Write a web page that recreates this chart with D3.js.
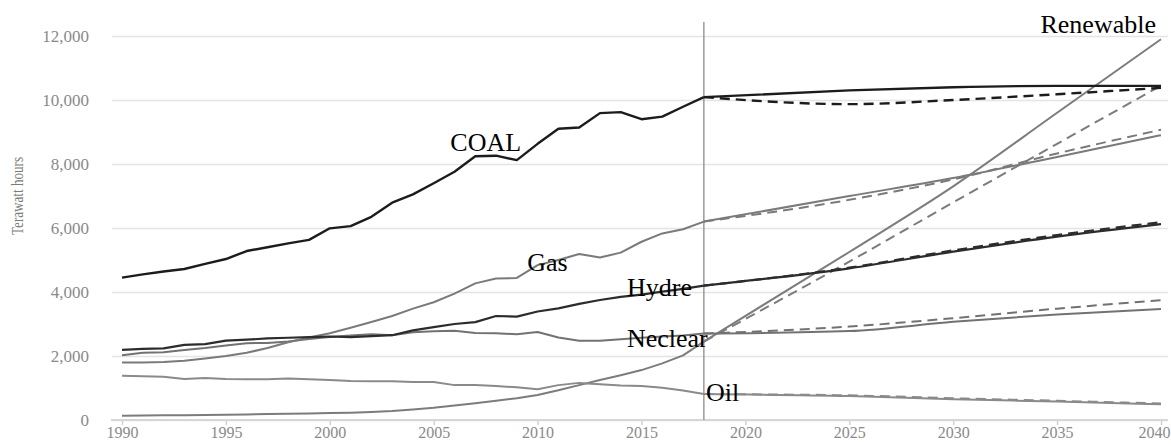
<!DOCTYPE html>
<html>
<head>
<meta charset="utf-8">
<script src="https://cdn.jsdelivr.net/npm/d3@7"></script>
<style>
  body { margin: 0; background: #fff; }
  svg { display: block; }
</style>
</head>
<body>
<div id="chart"></div>
<script>
const width = 1171;
const height = 444;

// historical data, 1990-2018 (terawatt hours)
const years = d3.range(1990, 2019);
const coal = [4450, 4550, 4640, 4720, 4880, 5030, 5280, 5400, 5520, 5630, 5990, 6060, 6350, 6790, 7050, 7400, 7760, 8240, 8260, 8120, 8630, 9100, 9140, 9590, 9620, 9400, 9480, 9790, 10090];
const gas = [1800, 1800, 1810, 1850, 1920, 2000, 2100, 2250, 2430, 2580, 2710, 2880, 3060, 3250, 3480, 3680, 3950, 4270, 4420, 4440, 4840, 5000, 5190, 5080, 5230, 5570, 5830, 5960, 6200];
const hydro = [2190, 2220, 2240, 2350, 2370, 2480, 2510, 2550, 2570, 2590, 2610, 2590, 2620, 2650, 2800, 2900, 3000, 3060, 3250, 3230, 3390, 3490, 3630, 3750, 3850, 3920, 4010, 4100, 4200];
const nuclear = [2020, 2100, 2120, 2190, 2250, 2330, 2400, 2410, 2450, 2530, 2590, 2640, 2680, 2650, 2740, 2770, 2790, 2720, 2710, 2680, 2750, 2580, 2480, 2480, 2520, 2570, 2610, 2640, 2700];
const oil = [1385, 1365, 1350, 1280, 1310, 1280, 1270, 1270, 1300, 1270, 1250, 1220, 1210, 1210, 1190, 1190, 1090, 1090, 1060, 1020, 960, 1090, 1160, 1120, 1080, 1060, 1010, 920, 810];
const renewable = [135, 140, 145, 150, 155, 165, 175, 185, 195, 205, 215, 230, 250, 280, 330, 380, 450, 520, 600, 680, 780, 930, 1090, 1250, 1400, 1560, 1770, 2020, 2450];

// projections, 2018-2040: solid and dashed scenarios
const projYears = [2018, 2025, 2030, 2035, 2040];
const coalSolid = [10090, 10300, 10400, 10440, 10440];
const coalDash = [10090, 9870, 10000, 10180, 10380];
const gasSolid = [6200, 7000, 7560, 8220, 8900];
const gasDash = [6200, 6880, 7520, 8330, 9070];
const hydroSolid = [4200, 4740, 5260, 5730, 6120];
const hydroDash = [4200, 4760, 5300, 5780, 6180];
const nuclearSolid = [2700, 2780, 3070, 3300, 3470];
const nuclearDash = [2700, 2920, 3180, 3480, 3740];
const oilSolid = [810, 750, 650, 575, 490];
const oilDash = [810, 770, 680, 600, 515];
const renewableSolid = [2450, 5250, 7300, 9600, 11900];
const renewableDash = [2450, 4950, 6800, 8630, 10450];

const yTicks = [0, 2000, 4000, 6000, 8000, 10000, 12000];
const xTicks = [1990, 1995, 2000, 2005, 2010, 2015, 2020, 2025, 2030, 2035, 2040];

const labels = [
  { text: "COAL", year: 2005.8, value: 8400 },
  { text: "Gas", year: 2009.5, value: 4650 },
  { text: "Hydre", year: 2014.3, value: 3880 },
  { text: "Neclear", year: 2014.3, value: 2290 },
  { text: "Oil", year: 2018.1, value: 580 },
  { text: "Renewable", year: 2034.2, value: 12090 }
];

const series = [
  { hist: renewable, solid: renewableSolid, dash: renewableDash, color: "#7c7c7c", w: 2 },
  { hist: oil, solid: oilSolid, dash: oilDash, color: "#8a8a8a", w: 2 },
  { hist: nuclear, solid: nuclearSolid, dash: nuclearDash, color: "#727272", w: 2 },
  { hist: gas, solid: gasSolid, dash: gasDash, color: "#7a7a7a", w: 2 },
  { hist: hydro, solid: hydroSolid, dash: hydroDash, color: "#2c2c2c", w: 2.2 },
  { hist: coal, solid: coalSolid, dash: coalDash, color: "#1c1c1c", w: 2.4 }
];

const serif = "'Liberation Serif', 'Times New Roman', serif";

const svg = d3.select("#chart").append("svg")
    .attr("width", width)
    .attr("height", height);

const x = d3.scaleLinear().domain([1990, 2040]).range([122, 1161]);
const y = d3.scaleLinear().domain([0, 12000]).range([420, 36]);

const gridLeft = 112;
const gridRight = 1168;

// y axis with gridlines
const yAxis = svg.append("g")
    .attr("transform", `translate(${gridLeft},0)`)
    .call(d3.axisLeft(y).tickValues(yTicks).tickFormat(d3.format(","))
        .tickSize(-(gridRight - gridLeft)).tickPadding(23))
    .attr("font-family", serif)
    .attr("font-size", 17);
yAxis.select(".domain").remove();
yAxis.selectAll(".tick line")
    .attr("stroke", "#e4e4e4")
    .attr("stroke-width", 1.5);
yAxis.selectAll(".tick text")
    .attr("fill", "#8a8a8a");

// x axis
const xAxis = svg.append("g")
    .attr("transform", `translate(0,${y(0)})`)
    .call(d3.axisBottom(x).tickValues(xTicks).tickFormat(d3.format("d"))
        .tickSize(5).tickPadding(2))
    .attr("font-family", serif)
    .attr("font-size", 16);
xAxis.select(".domain").remove();
xAxis.selectAll(".tick line")
    .attr("stroke", "#d0d0d0")
    .attr("stroke-width", 1.5);
xAxis.selectAll(".tick text")
    .attr("fill", "#8a8a8a");
// keep the last year inside the frame
xAxis.selectAll(".tick text")
    .filter(d => d === 2040)
    .attr("text-anchor", "end")
    .attr("x", width - 1 - x(2040));
xAxis.append("line")
    .attr("x1", gridLeft - 1).attr("x2", gridRight)
    .attr("stroke", "#d6d6d6")
    .attr("stroke-width", 2);

// y axis title
svg.append("text")
    .attr("transform", "translate(23,196) rotate(-90)")
    .attr("text-anchor", "middle")
    .attr("fill", "#7a7a7a")
    .attr("textLength", 78)
    .attr("lengthAdjust", "spacingAndGlyphs")
    .style("font-family", serif)
    .style("font-size", "16px")
    .text("Terawatt hours");

// 2018 divider
svg.append("line")
    .attr("x1", x(2018)).attr("x2", x(2018))
    .attr("y1", 22).attr("y2", y(0))
    .attr("stroke", "#9a9a9a")
    .attr("stroke-width", 1.5);

const histLine = d3.line()
    .x((d, i) => x(years[i]))
    .y(d => y(d));

const projLine = d3.line()
    .x((d, i) => x(projYears[i]))
    .y(d => y(d))
    .curve(d3.curveMonotoneX);

series.forEach(s => {
  svg.append("path")
      .attr("d", projLine(s.dash))
      .attr("fill", "none")
      .attr("stroke", s.color)
      .attr("stroke-width", s.w)
      .attr("stroke-dasharray", "10,6");
  svg.append("path")
      .attr("d", projLine(s.solid))
      .attr("fill", "none")
      .attr("stroke", s.color)
      .attr("stroke-width", s.w);
  svg.append("path")
      .attr("d", histLine(s.hist))
      .attr("fill", "none")
      .attr("stroke", s.color)
      .attr("stroke-width", s.w)
      .attr("stroke-linejoin", "round");
});

// series labels
svg.selectAll(".label")
  .data(labels)
  .enter()
  .append("text")
    .attr("class", "label")
    .attr("x", d => x(d.year))
    .attr("y", d => y(d.value))
    .attr("fill", "#000")
    .style("font-family", serif)
    .style("font-size", "26px")
    .text(d => d.text);
</script>
</body>
</html>
